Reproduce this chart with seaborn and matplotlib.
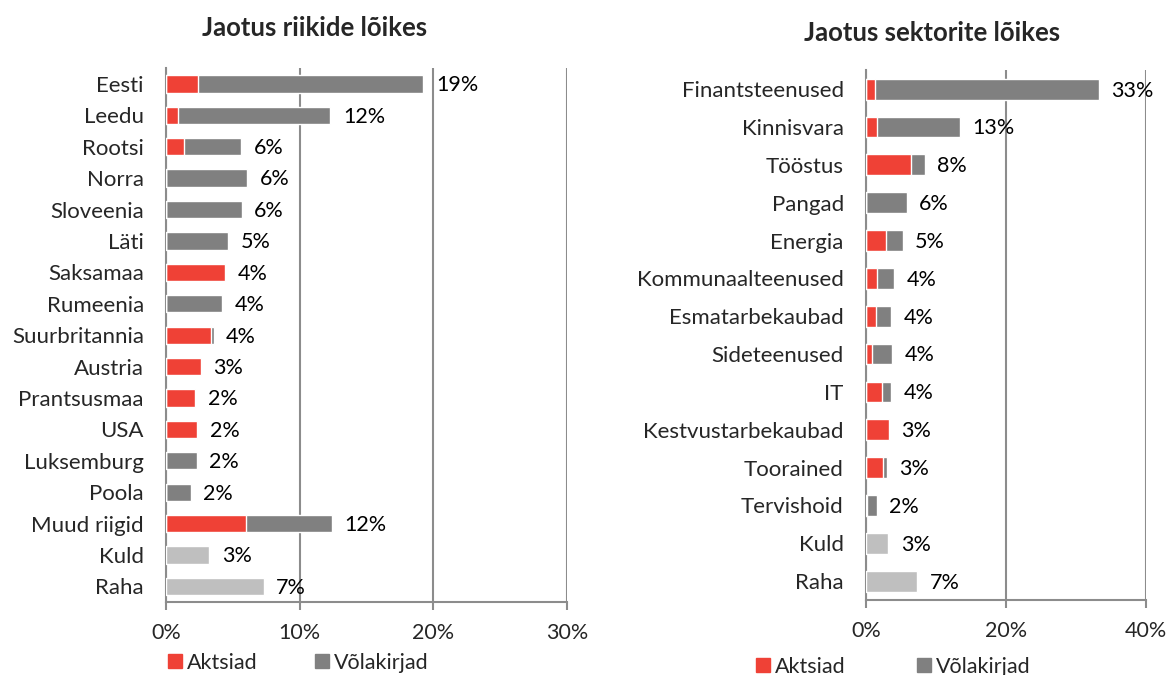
import numpy as np
import pandas as pd
import seaborn as sns
import matplotlib.pyplot as plt
from matplotlib.lines import Line2D

# riigid (countries)
riigid = ["Eesti", "Leedu", "Rootsi", "Norra", "Sloveenia", "Läti", "Saksamaa",
          "Rumeenia", "Suurbritannia", "Austria", "Prantsusmaa", "USA",
          "Luksemburg", "Poola", "Muud riigid", "Kuld", "Raha"]
riigid_aktsiad = [2.4, 0.9, 1.35, 0, 0, 0, 4.4, 0, 3.35, 2.6, 2.2, 2.35, 0, 0, 6.0, 0, 0]
riigid_volakirjad = [16.85, 11.4, 4.25, 6.05, 5.65, 4.65, 0, 4.2, 0.2, 0, 0, 0, 2.3, 1.85, 6.4, 0, 0]
riigid_muu = [0, 0, 0, 0, 0, 0, 0, 0, 0, 0, 0, 0, 0, 0, 0, 3.25, 7.3]

# sektorid (sectors)
sektorid = ["Finantsteenused", "Kinnisvara", "Tööstus", "Pangad", "Energia",
            "Kommunaalteenused", "Esmatarbekaubad", "Sideteenused", "IT",
            "Kestvustarbekaubad", "Toorained", "Tervishoid", "Kuld", "Raha"]
sektorid_aktsiad = [1.3, 1.6, 6.4, 0, 2.9, 1.6, 1.5, 0.8, 2.3, 3.3, 2.5, 0.2, 0, 0]
sektorid_volakirjad = [32.0, 11.8, 2.0, 5.8, 2.35, 2.45, 2.1, 2.9, 1.25, 0, 0.5, 1.35, 0, 0]
sektorid_muu = [0, 0, 0, 0, 0, 0, 0, 0, 0, 0, 0, 0, 3.2, 7.3]

RED = "#EF4136"
GRAY = "#808080"
LIGHT = "#BFBFBF"
GRID = "#8C8C8C"
FS = 15.5

sns.set_theme(style="white")
plt.rcParams["font.family"] = ["Lato", "DejaVu Sans"]


def stacked_bars(ax, cats, akt, vol, muu, xmax, step):
    df = pd.DataFrame({"cat": cats, "akt": akt, "vol": vol, "muu": muu})
    df["bond_end"] = df["akt"] + df["vol"]
    df["total"] = df["bond_end"] + df["muu"]
    sns.barplot(data=df, x="bond_end", y="cat", color=GRAY, width=0.55,
                saturation=1, ax=ax, zorder=3)
    sns.barplot(data=df, x="akt", y="cat", color=RED, width=0.55,
                saturation=1, ax=ax, zorder=4)
    sns.barplot(data=df, x="muu", y="cat", color=LIGHT, width=0.55,
                saturation=1, ax=ax, zorder=4)
    for i, t in enumerate(df["total"]):
        ax.annotate(f"{int(round(t))}%", (t, i), xytext=(9, -1),
                    textcoords="offset points", va="center", ha="left",
                    fontsize=FS, color="black")
    ax.set_xlim(0, xmax)
    ax.set_ylim(len(cats) - 0.5, -0.5)
    ticks = np.arange(0, xmax + 0.01, step)
    ax.set_xticks(ticks)
    ax.set_xticklabels([f"{int(t)}%" for t in ticks], fontsize=FS)
    ax.set_yticks(range(len(cats)))
    ax.set_yticklabels(cats, fontsize=16)
    ax.set_yticks(np.arange(-0.5, len(cats), 1), minor=True)
    ax.tick_params(axis="y", which="major", length=0, pad=16)
    ax.tick_params(axis="y", which="minor", length=5, color=GRID, width=1.5)
    ax.tick_params(axis="x", which="major", length=6, color=GRID, width=1.5,
                   pad=9, direction="out")
    ax.tick_params(axis="x", bottom=True)
    ax.xaxis.grid(True, color=GRID, linewidth=1.5, zorder=0)
    ax.set_axisbelow(True)
    ax.set_xlabel("")
    ax.set_ylabel("")
    for s in ["top", "right"]:
        ax.spines[s].set_visible(False)
    for s in ["left", "bottom"]:
        ax.spines[s].set_color(GRID)
        ax.spines[s].set_linewidth(1.5)


fig = plt.figure(figsize=(11.66, 6.75), dpi=100)
ax1 = fig.add_axes([0.1424, 0.108, 0.344, 0.791])
ax2 = fig.add_axes([0.7427, 0.111, 0.240, 0.785])

stacked_bars(ax1, riigid, riigid_aktsiad, riigid_volakirjad, riigid_muu, 30, 10)
stacked_bars(ax2, sektorid, sektorid_aktsiad, sektorid_volakirjad, sektorid_muu, 40, 20)

fig.text(315 / 1166, 1 - 28 / 675, "Jaotus riikide lõikes", ha="center",
         va="center", fontsize=18.5, fontweight="bold")
fig.text(932 / 1166, 1 - 33 / 675, "Jaotus sektorite lõikes", ha="center",
         va="center", fontsize=18.5, fontweight="bold")

handles = [Line2D([], [], marker="s", linestyle="", color=RED, markersize=10),
           Line2D([], [], marker="s", linestyle="", color=GRAY, markersize=10)]
labels = ["Aktsiad", "Võlakirjad"]
fig.legend(handles, labels, loc="center left", ncol=2, frameon=False,
           bbox_to_anchor=(156 / 1166, 1 - 663 / 675), fontsize=FS,
           borderpad=0, handlelength=0.8, handletextpad=0.15,
           columnspacing=2.6)
fig.legend(handles, labels, loc="center left", ncol=2, frameon=False,
           bbox_to_anchor=(744 / 1166, 1 - 667 / 675), fontsize=FS,
           borderpad=0, handlelength=0.8, handletextpad=0.15,
           columnspacing=3.25)

fig.savefig("out.png", dpi=100)
